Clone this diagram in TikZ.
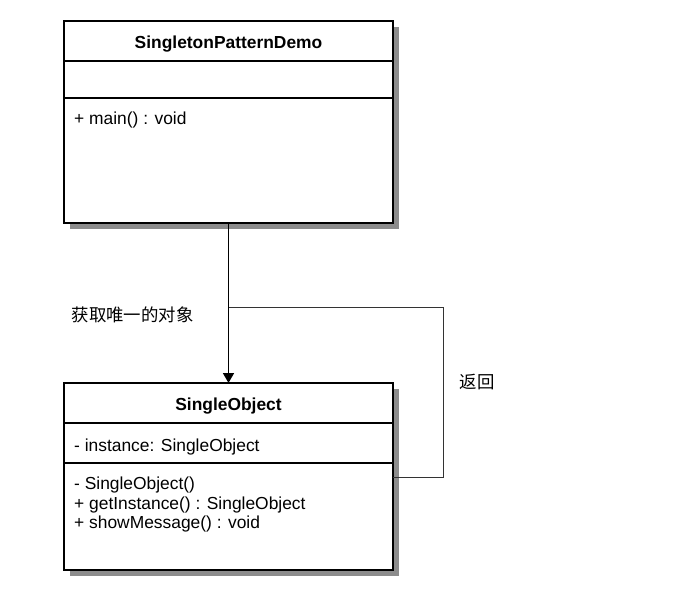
\documentclass[tikz,border=0pt]{standalone}
\usepackage{fontspec}
\setmainfont{Liberation Sans}
\newfontfamily\cjk{Noto Sans CJK SC}
\usepackage{xcolor}
\usetikzlibrary{arrows.meta,positioning,calc,backgrounds}
\definecolor{Ink}{HTML}{000000}
\definecolor{Shade}{HTML}{8C8C8C}

\begin{document}
\begin{tikzpicture}[
  x=1pt,y=-1pt,
  node distance=0pt,
  every node/.style={font=\fontsize{17.4}{19.5}\selectfont,inner sep=0pt},
  part/.style={draw=Ink,line width=1.9pt,fill=white,minimum width=329,minimum height=#1,outer sep=0pt},
  head/.style={part=40,font=\fontsize{17.4}{19.5}\selectfont\bfseries,text height=18.6pt,text depth=3.7pt},
  member/.style={anchor=north west,align=left,xshift=10},
  shadow/.style={fill=Shade},
  arr/.style={-{Triangle[length=10pt,width=11pt]},line width=1.7pt,color=Ink},
  ret/.style={line width=1pt,color=Ink!80}
]
\useasboundingbox (0,0) rectangle (680,605);

% SingletonPatternDemo
\node[head] (demoHead) at (228.5,41) {SingletonPatternDemo};
\node[part=37,below=of demoHead] (demoAttr) {};
\node[part=125,below=of demoAttr] (demoOps) {};
\node[member,yshift=-14] (demoMain) at (demoOps.north west) {+ main() : void};

% SingleObject
\node[head] (objHead) at (228.5,403) {SingleObject};
\node[part=40,below=of objHead] (objAttr) {};
\node[part=107,below=of objAttr] (objOps) {};
\node[member,yshift=-15.5] (objInst) at (objAttr.north west) {- instance: SingleObject};
\node[member,yshift=-14] (objMeth) at (objOps.north west) {- SingleObject()\\+ getInstance() : SingleObject\\+ showMessage() : void};

% shadows
\begin{scope}[on background layer]
  \fill[shadow] ($(demoHead.north west)+(6,6)$) rectangle ($(demoOps.south east)+(6,6)$);
  \fill[shadow] ($(objHead.north west)+(6,6)$) rectangle ($(objOps.south east)+(6,6)$);
\end{scope}

% labels
\node (getLbl) at (132.5,315) {\cjk 获取唯一的对象};
\node (retLbl) at (477,382) {\cjk 返回};

% connectors
\coordinate (bend) at (443,307);
\draw[arr] (demoOps.south) -- (objHead.north);
\draw[ret] ([yshift=-14]objOps.north east) -| (bend) -- (bend -| demoOps.south);
\end{tikzpicture}
\end{document}
